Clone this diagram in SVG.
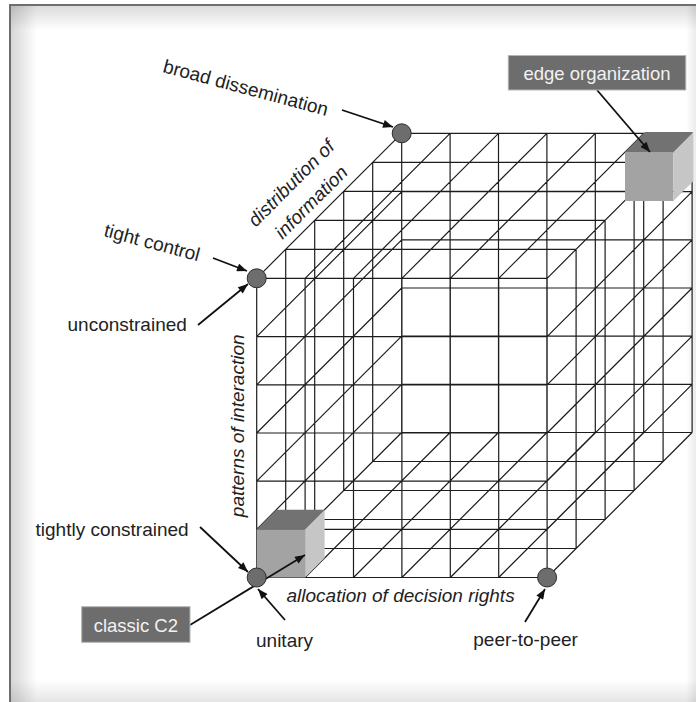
<svg xmlns="http://www.w3.org/2000/svg" width="696" height="702" viewBox="0 0 696 702">
<defs>
<style>
.lat{fill:none;stroke:#1c1c1c;stroke-width:1.2}
.lbl{font-family:"Liberation Sans",Arial,sans-serif;font-size:19px;fill:#222}
.ax{font-style:italic}
.box{fill:#6d6d6d;stroke:#b5b5b5;stroke-width:1}
.boxt{font-family:"Liberation Sans",Arial,sans-serif;font-size:18.5px;fill:#f2f2f2;text-anchor:middle}
.dot{fill:#6d6d6d;stroke:#2e2e2e;stroke-width:1}
.arr{fill:none;stroke:#111;stroke-width:1.8;marker-end:url(#ah)}
.cf{fill:#a3a3a3}.ct{fill:#727272}.cr{fill:#c6c6c6}
</style>
<marker id="ah" viewBox="0 0 10 8" refX="10" refY="4" markerWidth="11" markerHeight="8" markerUnits="userSpaceOnUse" orient="auto"><path d="M0,0 L10,4 L0,8 z" fill="#111"/></marker>
<linearGradient id="gl" x1="0" y1="0" x2="1" y2="0"><stop offset="0" stop-color="#000" stop-opacity="0.16"/><stop offset="1" stop-color="#000" stop-opacity="0"/></linearGradient>
<linearGradient id="gt" x1="0" y1="0" x2="0" y2="1"><stop offset="0" stop-color="#000" stop-opacity="0.14"/><stop offset="1" stop-color="#000" stop-opacity="0"/></linearGradient>
<linearGradient id="gb" x1="0" y1="0" x2="0" y2="1"><stop offset="0" stop-color="#000" stop-opacity="0"/><stop offset="1" stop-color="#000" stop-opacity="0.1"/></linearGradient>
<linearGradient id="gr" x1="0" y1="0" x2="1" y2="0"><stop offset="0" stop-color="#000" stop-opacity="0"/><stop offset="1" stop-color="#000" stop-opacity="0.08"/></linearGradient>
</defs>
<g id="frame">
<rect x="0" y="0" width="696" height="702" fill="#fff"/>
<rect x="11" y="6" width="26" height="696" fill="url(#gl)"/>
<rect x="11" y="6" width="685" height="24" fill="url(#gt)"/>
<rect x="11" y="680" width="685" height="22" fill="url(#gb)"/>
<rect x="686" y="6" width="10" height="696" fill="url(#gr)"/>
<path d="M10 702V5H696" fill="none" stroke="#6e6e6e" stroke-width="2"/>
</g>
<g id="lattice">
<path class="lat" d="M256.7 577.5V278.3M305.1 577.5V278.3M353.5 577.5V278.3M401.9 577.5V278.3M450.3 577.5V278.3M498.7 577.5V278.3M547.1 577.5V278.3
M256.7 577.5H547.1M256.7 529.3H547.1M256.7 481.2H547.1M256.7 433H547.1M256.7 384.8H547.1M256.7 336.7H547.1M256.7 278.3H547.1
M401.7 432.5V133.3M450.1 432.5V133.3M498.5 432.5V133.3M546.9 432.5V133.3M595.3 432.5V133.3M643.7 432.5V133.3M692.1 432.5V133.3
M401.7 432.5H692.1M401.7 384.3H692.1M401.7 336.2H692.1M401.7 288H692.1M401.7 239.8H692.1M401.7 191.7H692.1M401.7 133.3H692.1
M285.7 548.5V249.3M314.7 519.5V220.3M343.7 490.5V191.3M372.7 461.5V162.3
M576.1 548.5V249.3M605.1 519.5V220.3M634.1 490.5V191.3M663.1 461.5V162.3
M256.7 577.5l145 -145M256.7 529.3l145 -145M256.7 481.2l145 -145M256.7 433l145 -145M256.7 384.8l145 -145M256.7 336.7l145 -145M256.7 278.3l145 -145
M547.1 577.5l145 -145M547.1 529.3l145 -145M547.1 481.2l145 -145M547.1 433l145 -145M547.1 384.8l145 -145M547.1 336.7l145 -145M547.1 278.3l145 -145
M305.1 278.3l145 -145M353.5 278.3l145 -145M401.9 278.3l145 -145M450.3 278.3l145 -145M498.7 278.3l145 -145
M305.1 577.5l145 -145M353.5 577.5l145 -145M401.9 577.5l145 -145M450.3 577.5l145 -145M498.7 577.5l145 -145
M285.7 249.3H576.1M314.7 220.3H605.1M343.7 191.3H634.1M372.7 162.3H663.1
M285.7 548.5H576.1M314.7 519.5H605.1M343.7 490.5H634.1M372.7 461.5H663.1"/>
</g>
<g id="cube-classic">
<rect class="cf" x="256.7" y="529.3" width="48.4" height="48.2"/>
<polygon class="ct" points="256.7,529.3 305.1,529.3 324.6,509.8 276.2,509.8"/>
<polygon class="cr" points="305.1,529.3 324.6,509.8 324.6,558 305.1,577.5"/>
</g>
<g id="cube-edge">
<rect class="cf" x="625" y="152" width="48.4" height="49"/>
<polygon class="ct" points="625,152 673.4,152 693.4,132 645,132"/>
<polygon class="cr" points="673.4,152 693.4,132 693.4,181 673.4,201"/>
</g>
<g id="connectors">
<line class="arr" x1="342" y1="110" x2="393" y2="127"/>
<line class="arr" x1="213" y1="258" x2="247" y2="271"/>
<line class="arr" x1="198" y1="325" x2="248" y2="284"/>
<line class="arr" x1="597" y1="90" x2="650" y2="152"/>
<line class="arr" x1="200" y1="527" x2="248" y2="572"/>
<line class="arr" x1="190" y1="625" x2="305" y2="555"/>
<line class="arr" x1="285" y1="620" x2="258" y2="589"/>
<line class="arr" x1="525" y1="622" x2="545" y2="589"/>
</g>
<g id="point-broad"><circle class="dot" cx="401.7" cy="133.3" r="9.5"/></g>
<g id="point-tight"><circle class="dot" cx="256.7" cy="278.3" r="9.5"/></g>
<g id="point-origin"><circle class="dot" cx="256.7" cy="577.5" r="9.5"/></g>
<g id="point-peer"><circle class="dot" cx="547.1" cy="577.5" r="9.5"/></g>
<g id="label-broad"><text class="lbl" x="162" y="72" transform="rotate(15 162 72)">broad dissemination</text></g>
<g id="label-tightcontrol"><text class="lbl" x="103" y="236" transform="rotate(15 103 236)">tight control</text></g>
<g id="label-distribution">
<text class="lbl ax" x="295.7" y="187.7" text-anchor="middle" transform="rotate(-45 295.7 187.7)">distribution of</text>
<text class="lbl ax" x="315.7" y="206.7" text-anchor="middle" transform="rotate(-45 315.7 206.7)">information</text>
</g>
<g id="label-unconstrained"><text class="lbl" x="67.5" y="331">unconstrained</text></g>
<g id="label-patterns"><text class="lbl ax" x="244.5" y="425.8" text-anchor="middle" transform="rotate(-90 244.5 425.8)">patterns of interaction</text></g>
<g id="label-tightly"><text class="lbl" x="35.5" y="535.5">tightly constrained</text></g>
<g id="label-allocation"><text class="lbl ax" x="286.5" y="602">allocation of decision rights</text></g>
<g id="label-unitary"><text class="lbl" x="256" y="646.5">unitary</text></g>
<g id="label-peer"><text class="lbl" x="473.3" y="646">peer-to-peer</text></g>
<g id="box-edge"><rect class="box" x="508.3" y="55.5" width="177.5" height="34.5"/><text class="boxt" x="597" y="80">edge organization</text></g>
<g id="box-classic"><rect class="box" x="81.7" y="606.7" width="108.3" height="35.6"/><text class="boxt" x="135.8" y="631.5">classic C2</text></g>
</svg>
